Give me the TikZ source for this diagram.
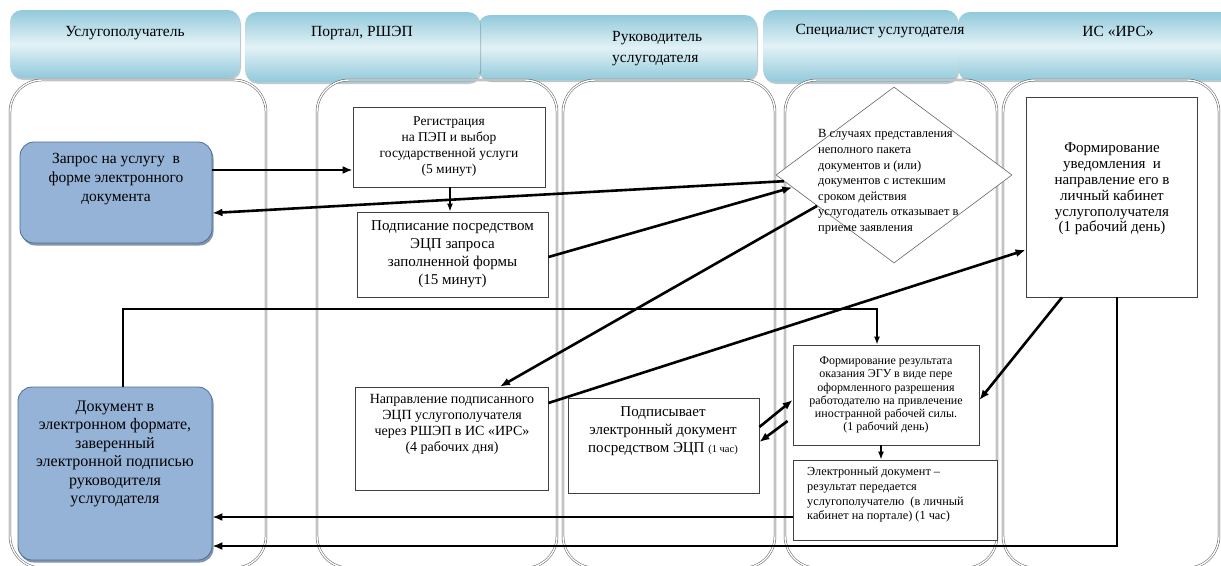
\documentclass[tikz,border=0pt]{standalone}
\usepackage{fontspec}
\setmainfont{Liberation Serif}
\usetikzlibrary{shapes.geometric,arrows.meta,shadows,calc}
\definecolor{hdrA}{HTML}{92C9DB}
\definecolor{hdrB}{HTML}{E2F2F6}
\definecolor{bluebox}{HTML}{95B3D7}
\definecolor{blueedge}{HTML}{4A6E9A}
\definecolor{laneclr}{HTML}{555555}
\begin{document}
\begin{tikzpicture}[x=1pt,y=-1pt,
  hdr/.style={rounded corners=12pt, top color=hdrA, bottom color=hdrA, middle color=hdrB,
    drop shadow={shadow xshift=1pt, shadow yshift=-2pt, fill=hdrA!50!black, opacity=0.35}},
  hdrtxt/.style={inner sep=0pt, font=\fontsize{15.5}{21}\selectfont},
  lane/.style={rounded corners=32pt, draw=laneclr, line width=0.5pt, double=white, double distance=1.4pt},
  box/.style={draw=black!75, line width=0.8pt, fill=white, inner sep=0pt, align=center},
  bbox/.style={draw=blueedge, line width=0.8pt, fill=bluebox, rounded corners=14pt, inner sep=0pt,
    drop shadow={shadow xshift=1.5pt, shadow yshift=-2.5pt, fill=blueedge!70!black, opacity=0.6}},
  diam/.style={diamond, draw=black!60, line width=0.6pt, fill=white, inner sep=0pt, minimum width=236pt, minimum height=176pt},
  txt/.style={inner sep=0pt, align=center},
  conn/.style={line width=2.6pt, -{Latex[length=10pt,width=8pt]}},
  thin/.style={line width=1.4pt, -{Latex[length=8pt,width=6pt]}}
]
\useasboundingbox (0,0) rectangle (1221,565);
% headers
\path[hdr] (478,15) rectangle (757,80);
\path[hdr] (10,10) rectangle (240,78);
\path[hdr] (245,12) rectangle (480,82);
\path[hdr] (763,10) rectangle (958,82);
\path[hdr] (958,12) rectangle (1240,80);
\node[hdrtxt] (h1) at (125,33) {Услугополучатель};
\node[hdrtxt] (h2) at (362,33) {Портал, РШЭП};
\node[hdrtxt, align=left, anchor=west] (h3) at (612,49) {Руководитель\\услугодателя};
\node[hdrtxt] (h4) at (880,31) {Специалист услугодателя};
\node[hdrtxt] (h5) at (1118,31) {ИС «ИРС»};
% lanes
\draw[lane] (10,80) rectangle (266,568);
\draw[lane] (317,80) rectangle (557,568);
\draw[lane] (563,80) rectangle (775,568);
\draw[lane] (785,80) rectangle (997,568);
\draw[lane] (1003,80) rectangle (1219,568);
% nodes
\node[bbox, minimum width=192pt, minimum height=101pt] (A) at (116,192.5) {};
\node[txt, font=\fontsize{15.5}{19}\selectfont] (At) at (116,179) {Запрос на услугу \ в\\форме электронного\\документа};
\node[bbox, minimum width=194pt, minimum height=173pt] (B) at (115,473.5) {};
\node[txt, font=\fontsize{16}{18.5}\selectfont] (Bt) at (115,454) {Документ в\\электронном формате,\\заверенный\\электронной подписью\\руководителя\\услугодателя};
\node[box, minimum width=192pt, minimum height=80pt, font=\fontsize{13.5}{16}\selectfont] (Reg) at (449,147) {Регистрация\\на ПЭП и выбор\\государственной услуги\\(5 минут)};
\node[box, minimum width=191pt, minimum height=85pt, font=\fontsize{15}{18}\selectfont] (Sign) at (452.5,254.5) {Подписание посредством\\ЭЦП запроса\\заполненной формы\\(15 минут)};
\node[box, minimum width=193pt, minimum height=103pt] (Dir) at (451.5,438.5) {};
\node[txt, font=\fontsize{14}{16}\selectfont] (Dirt) at (452,424) {Направление подписанного\\ЭЦП услугополучателя\\через РШЭП в ИС «ИРС»\\(4 рабочих дня)};
\node[box, minimum width=191pt, minimum height=95pt] (Podp) at (663.5,445.5) {};
\node[txt, font=\fontsize{15}{18}\selectfont] (Podpt) at (663,431) {Подписывает\\электронный документ\\посредством ЭЦП {\fontsize{10.5}{12}\selectfont(1 час)}};
\node[diam] (D) at (894,175) {};
\node[txt, align=left, anchor=west, font=\fontsize{12.5}{15.6}\selectfont] (Dt) at (818,182) {В случаях представления\\неполного пакета\\документов и (или)\\документов с истекшим\\сроком действия\\услугодатель отказывает в\\приеме заявления};
\node[box, minimum width=171pt, minimum height=200pt] (IRS) at (1111.5,197) {};
\node[txt, font=\fontsize{15}{15.8}\selectfont] (IRSt) at (1112,189) {Формирование\\уведомления \ и\\направление его в\\личный кабинет\\услугополучателя\\(1 рабочий день)};
\node[box, minimum width=186pt, minimum height=100pt, font=\fontsize{12}{13.3}\selectfont] (Res) at (886,395) {Формирование результата\\оказания ЭГУ в виде пере\\оформленного разрешения\\работодателю на привлечение\\иностранной рабочей силы.\\(1 рабочий день)};
\node[box, minimum width=204pt, minimum height=80pt] (Elec) at (895,500) {};
\node[txt, align=left, anchor=west, font=\fontsize{12.3}{14.7}\selectfont] (Elect) at (807,495) {Электронный документ –\\результат передается\\услугополучателю \ (в личный\\кабинет на портале) (1 час)};
% connectors
\draw[conn] (A.east |- 0,170) -- (Reg.west |- 0,170);
\draw[thin] (Reg.south -| 450,0) -- (Sign.north -| 450,0);
\draw[conn] ($(D.west)!0.07!(D.south)$) -- (A.east |- 0,213);
\draw[conn] (Sign.east |- 0,257) -- ($(D.west)!0.14!(D.south)$);
\draw[conn] ($(D.west)!0.35!(D.south)$) -- (Dir.north -| 500,0);
\draw[conn] (Dir.east |- 0,403) -- (IRS.west |- 0,250);
\draw[conn] (IRS.south -| 1062,0) -- (Res.east |- 0,400);
\draw[thin] (B.north -| 123,0) |- (877,309) -- (Res.north -| 877,0);
\draw[thin] (Res.south -| 881,0) -- (Elec.north -| 881,0);
\draw[conn] (Podp.east |- 0,427) -- (Res.west |- 0,400);
\draw[conn] ([xshift=-5pt]Res.west |- 0,421) -- (Podp.east |- 0,442);
\draw[conn] (Elec.west |- 0,517) -- (B.east |- 0,517);
\draw[conn] (IRS.south -| 1117,0) |- (B.east |- 0,546);
\end{tikzpicture}
\end{document}
